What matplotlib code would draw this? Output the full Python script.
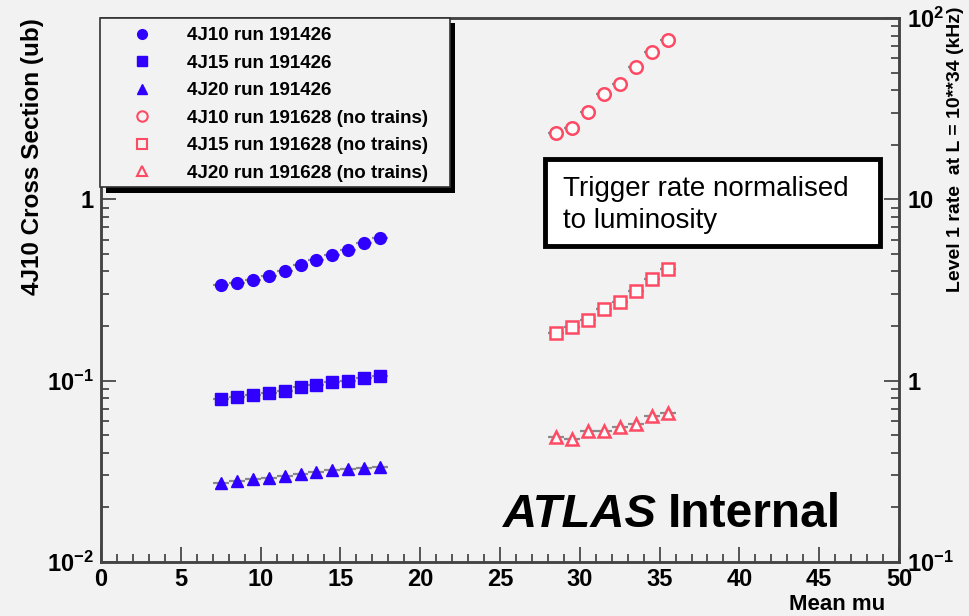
import matplotlib
matplotlib.use("Agg")
import matplotlib.pyplot as plt
from matplotlib.patches import Rectangle
from matplotlib.lines import Line2D
from matplotlib.ticker import LogLocator, NullFormatter, MultipleLocator

# run 191426 (left axis, cross section in ub)
mu_a = [7.5, 8.5, 9.5, 10.5, 11.5, 12.5, 13.5, 14.5, 15.5, 16.5, 17.5]
j10_a = [0.335, 0.347, 0.361, 0.380, 0.402, 0.434, 0.462, 0.492, 0.525, 0.571, 0.614]
j15_a = [0.0792, 0.0809, 0.0838, 0.0855, 0.0881, 0.0918, 0.0951, 0.098, 0.100, 0.1035, 0.1066]
j20_a = [0.0272, 0.0281, 0.0286, 0.0292, 0.0299, 0.0306, 0.0313, 0.0320, 0.0325, 0.0332, 0.0336]

# run 191628 no trains (right axis, L1 rate in kHz)
mu_b = [28.5, 29.5, 30.5, 31.5, 32.5, 33.5, 34.5, 35.5]
j10_b = [23.3, 24.6, 30.4, 38.0, 43.2, 53.4, 65.2, 75.9]
j15_b = [1.84, 1.97, 2.15, 2.47, 2.71, 3.11, 3.65, 4.14]
j20_b = [0.489, 0.476, 0.525, 0.531, 0.555, 0.578, 0.635, 0.664]

labels = ["4J10 run 191426", "4J15 run 191426", "4J20 run 191426",
          "4J10 run 191628 (no trains)", "4J15 run 191628 (no trains)",
          "4J20 run 191628 (no trains)"]

plt.rcParams["font.family"] = ["Liberation Sans", "DejaVu Sans"]
plt.rcParams["mathtext.fontset"] = "custom"
plt.rcParams["mathtext.rm"] = "Liberation Sans:bold"
plt.rcParams["mathtext.bf"] = "Liberation Sans:bold"
plt.rcParams["mathtext.default"] = "bf"

bg = "#f2f2f2"
blue = "#3000ff"
red = "#ff4a64"
W, H = 969, 616

fig = plt.figure(figsize=(9.69, 6.16), dpi=100, facecolor=bg)
ax = fig.add_axes([101 / W, 1 - 562 / H, 798 / W, 544 / H], facecolor=bg)
ax2 = ax.twinx()

ebar = dict(xerr=0.5, ecolor="#8a8a8a", elinewidth=1.6, capsize=0, linestyle="none")
ax.errorbar(mu_a, j10_a, fmt="o", ms=8.5, color=blue, **ebar)
ax.errorbar(mu_a, j15_a, fmt="s", ms=8.5, color=blue, **ebar)
ax.errorbar(mu_a, j20_a, fmt="^", ms=8.5, color=blue, **ebar)
hollow = dict(mfc="#fbfbfb", mec=red, mew=1.8, ms=9)
ax2.errorbar(mu_b, j10_b, fmt="o", **hollow, **ebar)
ax2.errorbar(mu_b, j15_b, fmt="s", **hollow, **ebar)
ax2.errorbar(mu_b, j20_b, fmt="^", **hollow, **ebar)

ax.set_xlim(0, 50)
ax.set_yscale("log")
ax.set_ylim(0.01, 10)
ax2.set_yscale("log")
ax2.set_ylim(0.1, 100)

tickfont = dict(weight="bold", size=17)
ax.xaxis.set_minor_locator(MultipleLocator(1))
ax.set_xticks(range(0, 51, 5))
ax.set_xticklabels([str(v) for v in range(0, 51, 5)], **tickfont)
ax.set_yticks([0.01, 0.1, 1, 10])
ax.set_yticklabels([r"$10^{-2}$", r"$10^{-1}$", "1", ""], **tickfont)
ax2.set_yticks([0.1, 1, 10, 100])
ax2.set_yticklabels([r"$10^{-1}$", "1", "10", r"$10^{2}$"], **tickfont)
for a in (ax, ax2):
    a.yaxis.set_minor_locator(LogLocator(base=10, subs=range(2, 10)))
    a.yaxis.set_minor_formatter(NullFormatter())
    a.tick_params(which="both", direction="in", color="#555555", width=1.4)
    a.tick_params(which="major", length=11, pad=5)
    a.tick_params(which="minor", length=6)
    for s in a.spines.values():
        s.set_color("#444444")
        s.set_linewidth(1.8)
ax.tick_params(axis="x", which="both", top=False, pad=4)
ax.tick_params(axis="y", which="both", right=False)
ax2.tick_params(axis="y", which="both", left=False, pad=6)

# axis titles
fig.text(33 / W, 1 - 18 / H, "4J10 Cross Section (ub)", rotation=90, ha="center",
         va="top", weight="bold", size=17.5)
fig.text(885 / W, 1 - 594 / H, "Mean mu", ha="right", va="top",
         weight="bold", size=16)
fig.text(956 / W, 1 - 292 / H, "Level 1 rate  at L = 10**34 (kHz)", rotation=90,
         ha="center", va="bottom", weight="bold", size=14)

# legend box with drop shadow
fig.patches.append(Rectangle((106 / W, 1 - 193 / H), 349 / W, 170 / H,
                             transform=fig.transFigure, facecolor="black",
                             edgecolor="none", zorder=5))
fig.patches.append(Rectangle((100 / W, 1 - 187 / H), 350 / W, 169 / H,
                             transform=fig.transFigure, facecolor=bg,
                             edgecolor="#333333", linewidth=1.2, zorder=6))
handles = [
    Line2D([], [], ls="none", marker="o", ms=7, color=blue),
    Line2D([], [], ls="none", marker="s", ms=7, color=blue),
    Line2D([], [], ls="none", marker="^", ms=7, color=blue),
    Line2D([], [], ls="none", marker="o", ms=7.5, mfc="none", mec=red, mew=1.5),
    Line2D([], [], ls="none", marker="s", ms=7.5, mfc="none", mec=red, mew=1.5),
    Line2D([], [], ls="none", marker="^", ms=7.5, mfc="none", mec=red, mew=1.5),
]
leg = fig.legend(handles, labels, loc="upper left",
                 bbox_to_anchor=(114 / W, 1 - 18 / H), frameon=False,
                 prop=dict(weight="bold", size=13.5),
                 handletextpad=1.4, labelspacing=0.55, borderpad=0)
leg.set_zorder(7)

# annotation box
fig.text(563 / W, 1 - 205 / H, "Trigger rate normalised\nto luminosity",
         ha="left", va="center", size=20, linespacing=1.3)
fig.patches.append(Rectangle((545 / W, 1 - 246 / H), 335 / W, 87 / H,
                             transform=fig.transFigure, facecolor="white",
                             edgecolor="black", linewidth=3.5, zorder=0.5))

# ATLAS Internal
fig.text(503 / W, 1 - 527 / H, "ATLAS", style="italic", weight="bold", size=34,
         ha="left", va="baseline")
fig.text(668 / W, 1 - 527 / H, "Internal", weight="bold", size=34.5,
         ha="left", va="baseline")

fig.savefig("out.png", dpi=100, facecolor=bg)
